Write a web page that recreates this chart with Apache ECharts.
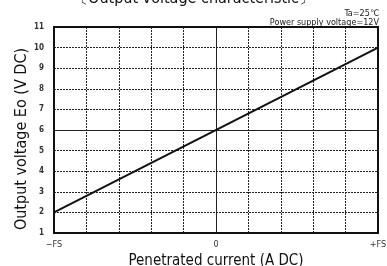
<!DOCTYPE html>
<html>
<head>
<meta charset="utf-8">
<script src="https://cdn.jsdelivr.net/npm/echarts@6/dist/echarts.min.js"></script>
<style>
  html, body { margin: 0; padding: 0; background: #fff; }
  #chart { width: 387px; height: 266px; }
</style>
</head>
<body>
<div id="chart"></div>
<script>
// current as fraction of full scale, output voltage in V
var currentFS = [-1, 1];
var outputVoltage = [2, 10];
var xTickLabels = { '-1': '\u2212FS', '0': '0', '1': '+FS' };

var lineData = [];
for (var i = 0; i < currentFS.length; i++) {
    lineData.push([currentFS[i], outputVoltage[i]]);
}

var myChart = echarts.init(document.getElementById('chart'), null, { renderer: 'canvas' });
var narrow = '"Liberation Sans Narrow", "DejaVu Sans Condensed", sans-serif';

var option = {
    animation: false,
    title: [
        {
            text: '\u3014Output voltage characteristic\u3015',
            left: 'center',
            top: -14,
            textStyle: { fontFamily: narrow, fontSize: 16, fontWeight: 'normal', color: '#111' }
        },
        {
            text: 'Ta=25\u2103',
            right: 3,
            top: 4,
            textStyle: { fontFamily: narrow, fontSize: 9, fontWeight: 'normal', color: '#222' }
        },
        {
            text: 'Power supply voltage=12V',
            right: 3,
            top: 13,
            textStyle: { fontFamily: narrow, fontSize: 9, fontWeight: 'normal', color: '#222' }
        }
    ],
    grid: { left: 54, right: 9, top: 27, bottom: 33, containLabel: false, outerBoundsMode: 'none' },
    xAxis: {
        type: 'value',
        min: -1,
        max: 1,
        interval: 0.2,
        name: 'Penetrated current (A DC)',
        nameLocation: 'middle',
        nameGap: 17,
        nameTextStyle: { fontFamily: narrow, fontSize: 15, color: '#111' },
        axisLine: { show: false },
        axisTick: { show: false },
        axisLabel: {
            margin: 7,
            fontFamily: narrow,
            fontSize: 9,
            color: '#333',
            showMinLabel: true,
            showMaxLabel: true,
            hideOverlap: false,
            formatter: function (value) {
                var key = String(Math.round(value * 10) / 10);
                return xTickLabels[key] !== undefined ? xTickLabels[key] : '';
            }
        },
        splitLine: { show: true, lineStyle: { color: '#222', width: 1, type: [2, 1] } }
    },
    yAxis: {
        type: 'value',
        min: 1,
        max: 11,
        interval: 1,
        name: 'Output voltage Eo (V DC)',
        nameLocation: 'middle',
        nameGap: 32,
        nameMoveOverlap: false,
        nameTextStyle: { fontFamily: narrow, fontSize: 16, color: '#111', verticalAlign: 'middle', padding: [0, 18, 0, 0] },
        axisLine: { show: false },
        axisTick: { show: false },
        axisLabel: { margin: 10, fontFamily: narrow, fontSize: 8, fontWeight: 'bold', color: '#333' },
        splitLine: { show: true, lineStyle: { color: '#222', width: 1, type: [2, 1] } }
    },
    series: [
        {
            type: 'line',
            data: lineData,
            symbol: 'none',
            lineStyle: { color: '#111', width: 2 },
            markLine: {
                silent: true,
                symbol: 'none',
                label: { show: false },
                lineStyle: { color: '#222', width: 1, type: 'solid' },
                data: [{ xAxis: 0 }, { yAxis: 6 }]
            },
            z: 5
        }
    ],
    graphic: [
        {
            type: 'rect',
            shape: { x: 54, y: 27, width: 324, height: 206 },
            style: { fill: 'none', stroke: '#111', lineWidth: 2 },
            z: 10
        }
    ]
};
myChart.setOption(option);
</script>
</body>
</html>
